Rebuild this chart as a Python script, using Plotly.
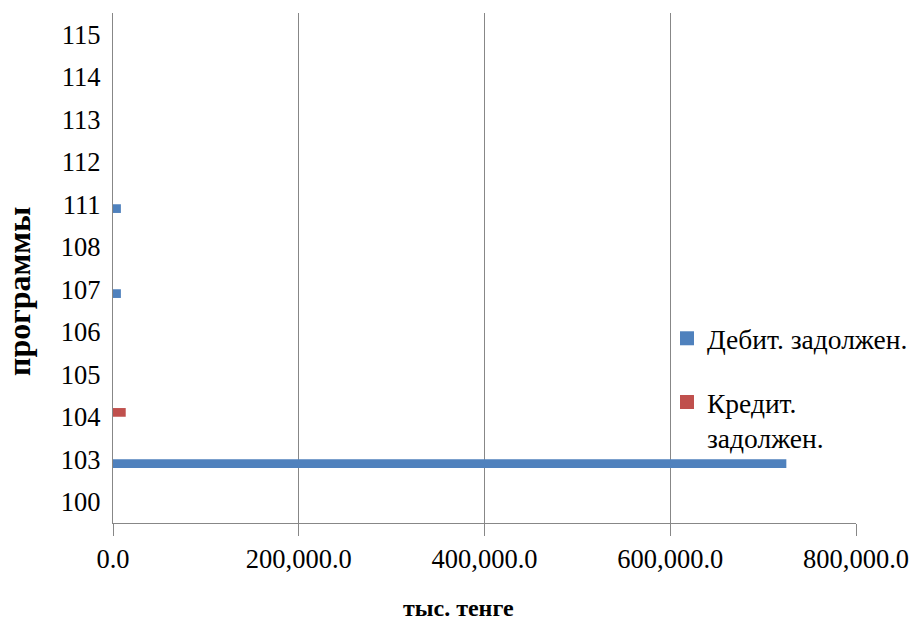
import plotly.graph_objects as go

categories = ["100", "103", "104", "105", "106", "107", "108", "111", "112", "113", "114", "115"]
debit = [0, 725000, 0, 0, 0, 8500, 0, 8500, 0, 0, 0, 0]
credit = [0, 0, 13700, 0, 0, 0, 0, 0, 0, 0, 0, 0]
x_ticks = [0, 200000, 400000, 600000, 800000]
x_tick_labels = ["0.0", "200,000.0", "400,000.0", "600,000.0", "800,000.0"]
series_names = ["Дебит. задолжен.", "Кредит.<br>задолжен."]
series_colors = ["#4F81BD", "#C0504D"]

FONT = "Times New Roman, Liberation Serif, serif"
GRID = "#878787"

fig = go.Figure()
for vals, name, col in zip([debit, credit], series_names, series_colors):
    fig.add_trace(go.Bar(y=categories, x=vals, orientation="h", name=name,
                         marker=dict(color=col, line=dict(width=0)), showlegend=False))
# legend entries (larger square swatches, as in the reference)
for i, (name, col) in enumerate(zip(series_names, series_colors)):
    fig.add_trace(go.Scatter(x=[None], y=[None], mode="markers", name=name,
                             marker=dict(symbol="square", size=14, color=col),
                             legendgroup=f"g{i}", showlegend=True, hoverinfo="skip"))

fig.update_layout(
    width=913, height=620,
    margin=dict(l=113, r=57, t=13, b=97, autoexpand=False),
    paper_bgcolor="white", plot_bgcolor="white",
    barmode="group", bargap=0.59, bargroupgap=0,
    font=dict(family=FONT, size=26.5, color="black"),
    showlegend=True,
    legend=dict(x=0.7456, y=0.41, xanchor="left", yanchor="top",
                bgcolor="rgba(0,0,0,0)", traceorder="grouped", tracegroupgap=25,
                valign="top", itemsizing="trace",
                font=dict(family=FONT, size=27.5, color="black")),
    xaxis=dict(range=[0, 800000], tickvals=x_ticks, ticktext=x_tick_labels,
               showgrid=True, gridcolor=GRID, gridwidth=1.3,
               showline=True, linecolor=GRID, linewidth=1.3,
               ticks="outside", ticklen=12, tickcolor=GRID, tickwidth=1.3,
               zeroline=False, automargin=False,
               tickfont=dict(family=FONT, size=26.5, color="black")),
    yaxis=dict(type="category", categoryorder="array", categoryarray=categories,
               showgrid=False, showline=True, linecolor=GRID, linewidth=1.3,
               ticks="", ticklabelstandoff=6, zeroline=False, automargin=False,
               tickfont=dict(family=FONT, size=26.5, color="black")),
    annotations=[
        dict(text="<b>тыс. тенге</b>", xref="paper", yref="paper", x=(458 - 113) / 743,
             y=-(608 - 523) / 510, xanchor="center", yanchor="middle", showarrow=False,
             font=dict(family=FONT, size=24, color="black")),
        dict(text="<b>программы</b>", xref="paper", yref="paper", x=-(113 - 19) / 743,
             y=(523 - 291) / 510, xanchor="center", yanchor="middle", showarrow=False,
             textangle=-90, font=dict(family=FONT, size=32, color="black")),
    ],
)

fig.write_html("out.html")
